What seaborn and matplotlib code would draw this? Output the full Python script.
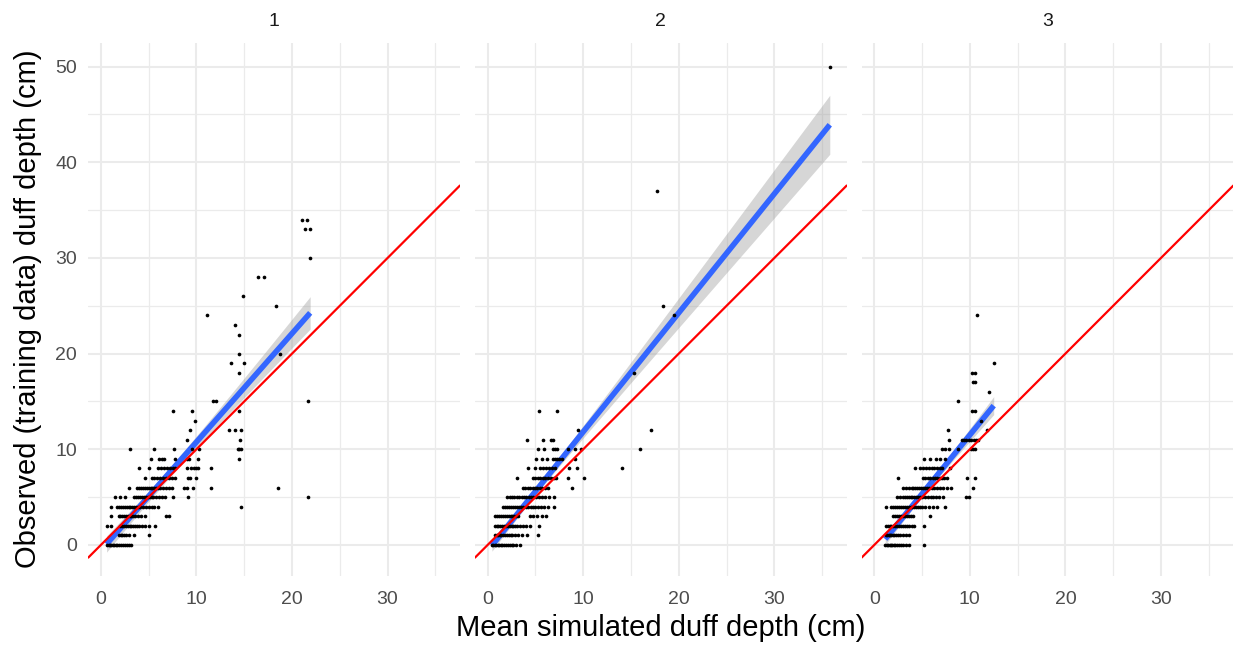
import numpy as np
import pandas as pd
import matplotlib
matplotlib.use("Agg")
import matplotlib.pyplot as plt
import seaborn as sns
from matplotlib.ticker import MultipleLocator

# Facet labels
panels = ["1", "2", "3"]

# Observed duff depth (cm, integer rows) -> mean simulated depths (cm) for each facet
rows_1 = {
    0: [0.65, 0.8, 0.95, 1.1, 1.25, 1.4, 1.55, 1.7, 1.9, 2.1, 2.3, 2.5, 2.7, 2.9, 3.2],
    1: [1.95, 2.1, 2.25, 2.4, 2.6, 2.9, 3.5, 5.0],
    2: [0.6, 1.1, 2.0, 2.2, 2.4, 2.6, 2.8, 3.0, 3.2, 3.4, 3.6, 3.8, 4.0, 4.3, 4.6, 5.0, 5.7],
    3: [1.1, 1.85, 2.0, 2.2, 2.4, 2.6, 2.8, 3.0, 3.2, 3.4, 3.6, 3.9, 4.2, 4.6, 6.8, 7.1],
    4: [1.1, 1.7, 1.9, 2.1, 2.3, 2.5, 2.7, 2.9, 3.1, 3.3, 3.5, 3.7, 3.9, 4.1, 4.4, 4.7,
        5.0, 5.3, 5.6, 6.0, 14.7],
    5: [1.5, 2.0, 2.5, 3.5, 3.7, 3.9, 4.1, 4.3, 4.5, 4.7, 4.9, 5.1, 5.3, 5.5, 5.8, 6.1,
        6.4, 6.7, 7.6, 9.1, 21.7],
    6: [2.9, 3.75, 4.0, 4.2, 4.4, 4.6, 4.8, 5.0, 5.2, 5.4, 5.6, 5.8, 6.0, 6.2, 6.5, 6.8,
        7.1, 7.4, 8.75, 9.05, 9.6, 11.5, 18.5],
    7: [4.6, 5.3, 5.6, 5.9, 6.2, 6.5, 6.8, 7.1, 7.4, 7.8, 9.15, 9.35, 10.0],
    8: [4.0, 5.0, 6.0, 6.3, 6.6, 6.9, 7.2, 7.5, 7.8, 9.0, 9.4, 9.7, 10.0, 10.2, 11.5],
    9: [5.2, 6.1, 6.35, 6.6, 7.8, 9.0, 9.25, 10.2, 14.45],
    10: [3.0, 5.6, 7.7, 9.5, 10.3, 14.3, 14.5, 14.65],
    11: [9.05, 14.55],
    12: [9.33, 13.4, 14.05, 14.65],
    13: [9.85],
    14: [7.5, 9.5, 14.45],
    15: [11.7, 12.0, 21.7],
    18: [14.45],
    19: [13.6, 15.0],
    20: [14.5, 18.7],
    22: [14.45],
    23: [14.0],
    24: [11.1],
    25: [18.3],
    26: [14.9],
    28: [16.4, 17.1],
    30: [21.9],
    33: [21.35, 21.9],
    34: [21.0, 21.6],
}

rows_2 = {
    0: [0.45, 0.6, 0.75, 0.9, 1.05, 1.2, 1.35, 1.5, 1.7, 1.9, 2.1, 2.3, 2.5, 2.7, 3.0, 3.4],
    1: [0.8, 0.95, 1.1, 1.25, 1.4, 1.6, 1.8, 2.0, 2.2, 2.4, 2.6, 2.9, 3.2, 3.6, 4.1, 5.3],
    2: [0.8, 0.95, 1.1, 1.3, 1.5, 1.7, 1.9, 2.1, 2.3, 2.5, 2.7, 2.9, 3.1, 3.4, 3.7, 4.0,
        4.4, 5.4],
    3: [0.8, 1.0, 1.2, 1.4, 1.6, 1.8, 2.0, 2.2, 2.4, 2.6, 2.8, 3.0, 3.2, 4.4, 4.8, 5.2,
        5.7, 6.1],
    4: [1.65, 1.85, 2.05, 2.25, 2.45, 2.65, 2.85, 3.05, 3.25, 3.5, 3.75, 4.0, 4.25, 4.5,
        4.75, 5.0, 5.3, 5.6, 5.9, 6.3, 6.9],
    5: [2.0, 2.3, 2.55, 2.8, 3.05, 3.3, 3.55, 3.8, 4.05, 4.3, 4.55, 4.8, 5.1, 5.4, 5.7,
        6.0, 6.4, 6.9],
    6: [3.7, 3.95, 4.2, 4.45, 4.7, 4.95, 5.2, 5.45, 5.7, 6.0, 6.3, 8.8],
    7: [3.1, 4.75, 5.0, 5.25, 5.5, 5.75, 6.0, 6.3, 6.6, 6.9, 7.2, 8.4, 10.1],
    8: [4.25, 4.95, 5.5, 5.8, 6.1, 6.4, 6.7, 7.0, 8.55, 9.4, 14.1],
    9: [5.1, 5.7, 6.2, 6.8, 7.05, 7.3, 7.5, 7.75, 9.1],
    10: [5.25, 5.95, 6.8, 7.0, 7.3, 8.4, 9.1, 9.75, 15.9],
    11: [4.1, 5.8, 6.65, 6.85],
    12: [9.45, 17.1],
    14: [5.4, 7.3],
    18: [15.3],
    24: [19.5],
    25: [18.4],
    37: [17.7],
    50: [35.8],
}

rows_3 = {
    0: [1.15, 1.3, 1.45, 1.6, 1.75, 1.9, 2.05, 2.2, 2.4, 2.6, 2.8, 3.0, 3.3, 3.6, 5.25],
    1: [1.2, 1.35, 1.5, 1.65, 1.8, 1.95, 2.1, 2.3, 2.5, 2.7, 3.0, 3.3, 3.6],
    2: [1.2, 1.4, 1.6, 1.8, 2.0, 2.2, 2.4, 2.6, 2.8, 3.0, 3.2, 3.4, 3.6, 3.9, 4.2, 5.25],
    3: [2.0, 2.2, 2.4, 2.6, 2.8, 3.0, 3.2, 3.4, 3.6, 3.8, 4.1, 5.8],
    4: [1.2, 1.8, 2.0, 2.2, 2.4, 2.6, 2.8, 3.0, 3.2, 3.4, 3.6, 3.8, 4.0, 4.2, 4.4, 4.6,
        4.8, 5.0, 5.3, 5.7, 6.2, 6.6, 7.4],
    5: [2.4, 2.7, 3.0, 3.2, 3.4, 3.6, 3.8, 4.0, 4.2, 4.4, 4.6, 4.8, 5.0, 5.3, 5.6, 5.9,
        6.2, 6.5, 6.8, 7.2, 9.65, 9.95],
    6: [3.0, 3.3, 3.6, 3.9, 4.1, 4.3, 4.5, 4.7, 4.9, 5.1, 5.3, 5.5, 5.7, 6.0, 6.3, 6.6,
        6.9, 7.2, 7.6, 8.05, 10.3],
    7: [2.45, 5.1, 5.35, 5.6, 5.85, 6.1, 6.35, 6.6, 6.85, 7.1, 7.35, 7.6, 9.7, 10.5],
    8: [4.3, 4.8, 5.1, 5.4, 5.7, 6.0, 6.3, 6.6, 6.85, 7.1, 7.9],
    9: [5.2, 5.8, 6.5, 6.9, 7.4],
    10: [7.1, 7.4, 7.8, 8.8, 10.1, 10.3, 10.55],
    11: [7.8, 9.15, 9.4, 9.65, 9.9, 10.15, 10.4, 10.65, 10.9],
    12: [7.75, 11.85],
    13: [11.15],
    14: [10.2, 10.55],
    15: [8.8],
    16: [12.05],
    17: [10.3, 10.55],
    18: [10.2, 10.55],
    19: [12.5],
    24: [10.8],
}

x_ticks = [0, 10, 20, 30]
y_ticks = [0, 10, 20, 30, 40, 50]


def rows_to_frame(rows, label):
    sim, obs = [], []
    for depth, xs in rows.items():
        sim.extend(xs)
        obs.extend([depth] * len(xs))
    return pd.DataFrame({"sim": sim, "obs": obs, "group": label})


df = pd.concat([rows_to_frame(r, g) for r, g in zip([rows_1, rows_2, rows_3], panels)],
               ignore_index=True)

sns.set_theme(style="white")
plt.rcParams["font.family"] = ["Liberation Sans", "DejaVu Sans"]

fig = plt.figure(figsize=(12.38, 6.45), dpi=100)
lefts = [0.0713, 0.3837, 0.6960]
axes = [fig.add_axes([l, 0.1076, 0.3002, 0.8262]) for l in lefts]

# shared limits with ggplot-like 5% expansion
x_all = df["sim"].values
x_lo, x_hi = x_all.min(), x_all.max()
x_pad = 0.05 * (x_hi - x_lo)
xlim = (x_lo - x_pad, x_hi + x_pad)
ylim = (-3.2, 52.5)

for ax, g in zip(axes, panels):
    d = df[df["group"] == g]
    x = d["sim"].values.astype(float)
    y = d["obs"].values.astype(float)
    n = len(x)

    # linear fit with 95% confidence band
    b1, b0 = np.polyfit(x, y, 1)
    grid = np.linspace(x.min(), x.max(), 100)
    fit = b0 + b1 * grid
    resid = y - (b0 + b1 * x)
    s = np.sqrt(resid @ resid / (n - 2))
    se = s * np.sqrt(1.0 / n + (grid - x.mean()) ** 2 / ((x - x.mean()) ** 2).sum())
    ax.fill_between(grid, fit - 1.97 * se, fit + 1.97 * se, color="#999999",
                    alpha=0.4, linewidth=0, zorder=1)

    sns.regplot(data=d, x="sim", y="obs", ax=ax, ci=None, scatter=False,
                color="#3366FF", truncate=True,
                line_kws=dict(linewidth=4, zorder=2, solid_capstyle="butt"))
    sns.scatterplot(data=d, x="sim", y="obs", ax=ax, color="black", s=7,
                    linewidth=0, zorder=3)
    ax.axline((0, 0), slope=1, color="red", linewidth=1.6, zorder=4)

    ax.set_xlim(xlim)
    ax.set_ylim(ylim)
    ax.set_xticks(x_ticks)
    ax.set_yticks(y_ticks)
    ax.xaxis.set_minor_locator(MultipleLocator(5))
    ax.yaxis.set_minor_locator(MultipleLocator(5))
    ax.set_axisbelow(True)
    ax.grid(which="major", color="#EBEBEB", linewidth=1.5)
    ax.grid(which="minor", color="#EBEBEB", linewidth=0.9)
    for sp in ax.spines.values():
        sp.set_visible(False)
    ax.tick_params(which="both", length=0, labelsize=14, labelcolor="#4D4D4D")
    ax.tick_params(axis="x", pad=11)
    ax.tick_params(axis="y", pad=8)
    ax.set_xlabel("")
    ax.set_ylabel("")
    ax.set_facecolor("white")
    if ax is not axes[0]:
        ax.tick_params(axis="y", labelleft=False)
    fig.text(ax.get_position().x0 + ax.get_position().width / 2, 0.966, g,
             ha="center", va="center", fontsize=14, color="#1A1A1A")

fig.text(0.5335, 0.027, "Mean simulated duff depth (cm)", ha="center", va="center",
         fontsize=21, color="black")
fig.text(0.0226, 0.521, "Observed (training data) duff depth (cm)", ha="center",
         va="center", rotation=90, fontsize=21, color="black")

fig.savefig("out.png", dpi=100, facecolor="white")
